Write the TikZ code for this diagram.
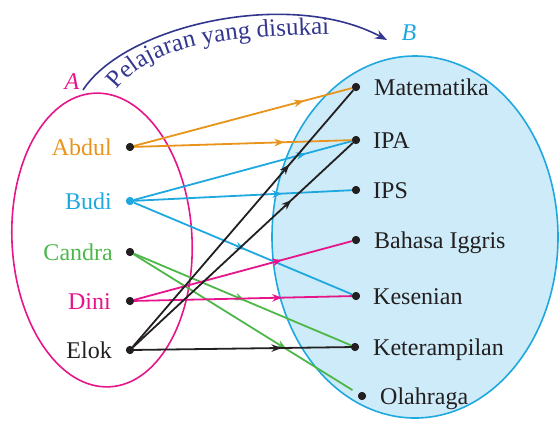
\documentclass[tikz,border=0pt]{standalone}
\usepackage{fontspec}
\setmainfont{Liberation Serif}
\usetikzlibrary{arrows.meta,decorations.markings,decorations.text}
\definecolor{corange}{HTML}{E8941A}
\definecolor{ccyan}{HTML}{1FA8E0}
\definecolor{cgreen}{HTML}{4DB849}
\definecolor{cpink}{HTML}{E6168A}
\definecolor{cnavy}{HTML}{33368F}
\definecolor{cblack}{HTML}{231F20}
\definecolor{cfill}{HTML}{CDEBF8}
\begin{document}
\begin{tikzpicture}[x=1bp,y=1bp,
  dotnode/.style={circle,fill=#1,inner sep=0pt,minimum size=8bp},
  dotnode/.default=cblack,
  lab/.style={font=\fontsize{24bp}{28bp}\selectfont, inner sep=0pt},
  link/.style={line width=1.8bp, color=#1},
  arrat/.style={postaction={decorate}, decoration={markings, mark=at position #1 with {\arrow{Stealth[length=10bp,width=7.5bp]}}}}
]
\useasboundingbox (0,0) rectangle (560,-426);
% set B
\filldraw[fill=cfill, draw=ccyan, line width=1.6bp] (415,-237) ellipse [x radius=143, y radius=181];
% set A
\draw[cpink, line width=1.6bp, rotate around={3:(102,-240)}] (102,-240) ellipse [x radius=90, y radius=147];
\node[lab, text=cpink, font=\fontsize{24bp}{28bp}\selectfont\itshape] (labA) at (72,-82) {A};
\node[lab, text=ccyan, font=\fontsize{24bp}{28bp}\selectfont\itshape] (labB) at (409,-33) {B};
% arc
\coordinate (arcS) at (83,-90);
\coordinate (arcE) at (387,-40);
\draw[cnavy, line width=1.6bp, -{Stealth[length=12bp,width=9bp]}] (arcS) .. controls (125,-25) and (290,12) .. (arcE);
\path[decorate, decoration={text along path, text format delimiters={|}{|},
  text={|\fontsize{25bp}{28bp}\selectfont|Pelajaran yang disukai}, text color=cnavy, text align=left}]
  (117,-90) .. controls (150,-48) and (210,-36) .. (340,-34);
% left dots
\node[dotnode] (ab) at (130,-147) {};
\node[dotnode=ccyan] (bu) at (130,-201) {};
\node[dotnode] (ca) at (130,-252) {};
\node[dotnode] (di) at (130,-301) {};
\node[dotnode] (el) at (130,-350) {};
% right dots
\node[dotnode] (ma) at (356,-87) {};
\node[dotnode] (ipa) at (356,-140) {};
\node[dotnode] (ips) at (356,-190) {};
\node[dotnode] (bi) at (356,-240) {};
\node[dotnode] (ke) at (356,-296) {};
\node[dotnode] (kt) at (355,-347) {};
\node[dotnode] (ol) at (362,-396) {};
% left labels
\node[lab, anchor=base east, text=corange] (tab) at (112,-155) {Abdul};
\node[lab, anchor=base east, text=ccyan] (tbu) at (112,-209) {Budi};
\node[lab, anchor=base east, text=cgreen] (tca) at (113,-260) {Candra};
\node[lab, anchor=base east, text=cpink] (tdi) at (111,-309) {Dini};
\node[lab, anchor=base east, text=cblack] (tel) at (112,-358) {Elok};
% right labels
\node[lab, anchor=base west, text=cblack] (tma) at (374,-95) {Matematika};
\node[lab, anchor=base west, text=cblack] (tipa) at (373,-148) {IPA};
\node[lab, anchor=base west, text=cblack] (tips) at (373,-198) {IPS};
\node[lab, anchor=base west, text=cblack] (tbi) at (374,-248) {Bahasa Iggris};
\node[lab, anchor=base west, text=cblack] (tke) at (373,-304) {Kesenian};
\node[lab, anchor=base west, text=cblack] (tkt) at (373,-355) {Keterampilan};
\node[lab, anchor=base west, text=cblack] (tol) at (380,-404) {Olahraga};
% connectors
\draw[link=cgreen, arrat=0.51] (ca) -- (kt);
\draw[link=cgreen, arrat=0.68, shorten >=7bp] (ca) -- (ol);
\draw[link=ccyan, arrat=0.79] (bu) -- (ipa);
\draw[link=ccyan, arrat=0.68] (bu) -- (ips);
\draw[link=ccyan, arrat=0.51] (bu) -- (ke);
\draw[link=cpink, arrat=0.68] (di) -- (bi);
\draw[link=cpink, arrat=0.68] (di) -- (ke);
\draw[link=corange, arrat=0.78] (ab) -- (ma);
\draw[link=corange, arrat=0.69] (ab) -- (ipa);
\draw[link=cblack, arrat=0.71] (el) -- (ma);
\draw[link=cblack, arrat=0.72] (el) -- (ipa);
\draw[link=cblack, arrat=0.68] (el) -- (kt);
% redraw dots on top
\foreach \n in {ab,ca,di,el,ma,ipa,ips,bi,ke,kt,ol} \fill[cblack] (\n) circle (4bp);
\fill[ccyan] (bu) circle (4bp);
\end{tikzpicture}
\end{document}
